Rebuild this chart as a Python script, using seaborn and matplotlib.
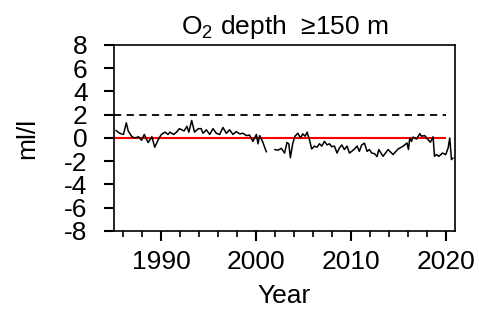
import numpy as np
import pandas as pd
import seaborn as sns
import matplotlib.pyplot as plt

# O2 anomaly series (ml/l); two segments split by a data gap
year_a = [1985.2, 1985.6, 1986.0, 1986.3, 1986.5, 1986.9, 1987.2, 1987.6, 1987.9, 1988.2,
          1988.6, 1989.0, 1989.3, 1989.7, 1990.0, 1990.4, 1990.7, 1990.9, 1991.3, 1991.6,
          1991.9, 1992.4, 1992.7, 1992.9, 1993.2, 1993.5, 1993.9, 1994.2, 1994.4, 1994.75,
          1995.1, 1995.45, 1995.8, 1996.16, 1996.5, 1996.86, 1997.2, 1997.56, 1997.9, 1998.27,
          1998.62, 1998.98, 1999.3, 1999.67, 2000.03, 2000.2, 2000.38, 2000.56, 2000.73, 2000.9,
          2001.09]
o2_a = [0.65, 0.4, 0.3, 1.3, 0.6, 0.1, 0.0, 0.1, -0.2, 0.3,
        -0.4, 0.1, -0.8, -0.1, 0.3, 0.5, 0.3, 0.5, 0.3, 0.5,
        0.8, 0.6, 1.0, 0.5, 1.5, 0.5, 0.8, 0.8, 0.4, 0.7,
        0.3, 0.8, 0.4, 0.3, 0.9, 0.4, 0.7, 0.3, 0.55, 0.35,
        0.4, 0.2, 0.25, -0.3, 0.3, -0.5, 0.2, -0.1, -0.4, -0.8,
        -1.2]

year_b = [2001.96, 2002.3, 2002.67, 2003.0, 2003.26, 2003.45, 2003.62, 2003.86, 2004.1, 2004.4,
          2004.68, 2004.92, 2005.17, 2005.38, 2005.63, 2005.87, 2006.16, 2006.43, 2006.68, 2006.93,
          2007.21, 2007.49, 2007.74, 2007.98, 2008.27, 2008.54, 2008.8, 2009.04, 2009.32, 2009.6,
          2009.85, 2010.1, 2010.38, 2010.66, 2010.9, 2011.15, 2011.44, 2011.71, 2011.96, 2012.2,
          2012.5, 2012.77, 2012.95, 2013.4, 2013.93, 2014.46, 2014.98, 2015.5, 2015.93, 2016.08,
          2016.22, 2016.4, 2016.57, 2016.93, 2017.28, 2017.45, 2017.8, 2018.15, 2018.4, 2018.68,
          2018.83, 2019.04, 2019.3, 2019.67, 2020.02, 2020.27, 2020.44, 2020.62, 2020.79]
o2_b = [-1.0, -1.05, -0.9, -1.3, -0.4, -0.5, -1.7, -0.5, 0.15, 0.4,
        0.0, 0.35, 0.15, 0.5, -0.15, -0.95, -0.7, -0.8, -0.5, -0.7,
        -0.3, -0.6, -0.5, -0.75, -0.7, -1.3, -0.85, -0.6, -1.0, -0.7,
        -1.3, -1.15, -0.95, -0.7, -1.15, -0.6, -0.45, -1.15, -1.0, -1.3,
        -1.35, -1.6, -1.0, -1.58, -1.0, -1.43, -0.95, -0.72, -0.43, -1.0,
        0.0, -0.3, 0.08, -0.1, 0.37, 0.15, 0.2, -0.15, -0.37, 0.1,
        -1.58, -1.43, -1.58, -1.3, -1.43, -0.86, 0.0, -1.86, -1.72]

ref_level = 0
threshold = 2
line_start, line_end = 1985, 2020
yticks = [-8, -6, -4, -2, 0, 2, 4, 6, 8]

df = pd.DataFrame({
    "year": year_a + year_b,
    "o2": o2_a + o2_b,
    "seg": [0] * len(year_a) + [1] * len(year_b),
})

sns.set_style("ticks")
plt.rcParams["font.family"] = ["Liberation Sans", "DejaVu Sans"]
plt.rcParams["mathtext.fontset"] = "custom"
plt.rcParams["mathtext.rm"] = "Liberation Sans"
plt.rcParams["axes.unicode_minus"] = False
plt.rcParams["text.color"] = "black"
plt.rcParams["axes.labelcolor"] = "black"

fig = plt.figure(figsize=(4.79, 3.10), dpi=100)
ax = fig.add_axes([0.238, 0.255, 0.712, 0.6])

ax.hlines(threshold, line_start, line_end, colors="k", linestyles=(0, (4, 3)), linewidth=1.3)
ax.hlines(ref_level, line_start, line_end, colors="red", linewidth=1.5)
sns.lineplot(data=df, x="year", y="o2", units="seg", estimator=None,
             color="k", linewidth=1.1, ax=ax)

ax.set_xlim(1985, 2021)
ax.set_ylim(-8, 8)
ax.set_yticks(yticks)
ax.set_xticks([1990, 2000, 2010, 2020])
ax.set_xticks(np.arange(1986, 2021, 2), minor=True)

for s in ax.spines.values():
    s.set_linewidth(1.2)
    s.set_color("k")
ax.tick_params(axis="both", which="both", colors="k")
ax.tick_params(axis="both", which="major", length=7, width=1.5, labelsize=19)
ax.tick_params(axis="y", which="major", pad=12)
ax.tick_params(axis="x", which="major", pad=7)
ax.tick_params(axis="x", which="minor", length=4, width=1.2)

ax.set_xlabel("Year", fontsize=19, labelpad=7)
ax.set_ylabel("ml/l", fontsize=19, labelpad=18)
ax.set_title("O$_2$ depth  \u2265150 m", fontsize=19, pad=8, color="k")

fig.savefig("out.png", dpi=100)
